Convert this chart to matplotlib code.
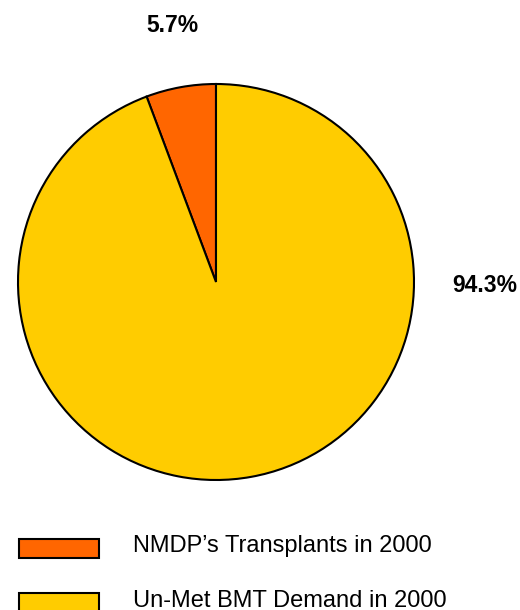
import matplotlib.pyplot as plt
from matplotlib.patches import Rectangle

plt.rcParams['font.family'] = ['Liberation Sans', 'DejaVu Sans']

# slice data
names = ["NMDP\u2019s Transplants in 2000", "Un-Met BMT Demand in 2000"]
shares = [5.7, 94.3]
colors = ['#FF6600', '#FFCC00']

fig = plt.figure(figsize=(5.2, 6.1), dpi=100)

# pie axes: centre (216,282) px, radius 198 px
ax = fig.add_axes([18/520, 130/610, 396/520, 396/610])
ax.pie(shares, colors=colors, startangle=90, counterclock=True,
       wedgeprops=dict(edgecolor='black', linewidth=1.5))
ax.set_xlim(-1, 1)
ax.set_ylim(-1, 1)
ax.set_aspect('equal')
ax.axis('off')

# percentage labels
fig.text(172/520, 0.9475, f'{shares[0]:.1f}%', ha='center', va='baseline',
         fontsize=16.5, fontweight='bold')
fig.text(485/520, 0.5213, f'{shares[1]:.1f}%', ha='center', va='baseline',
         fontsize=16.5, fontweight='bold')

# legend drawn by hand
box_tops = [539, 593]
text_base = [552, 607]
for i in range(len(names)):
    fig.patches.append(Rectangle((19/520, (610-box_tops[i]-19)/610), 80/520, 19/610,
                                 transform=fig.transFigure, facecolor=colors[i],
                                 edgecolor='black', linewidth=1.5))
    fig.text(133/520, (610-text_base[i])/610, names[i], ha='left', va='baseline',
             fontsize=17)

plt.savefig('out.png', dpi=100)
